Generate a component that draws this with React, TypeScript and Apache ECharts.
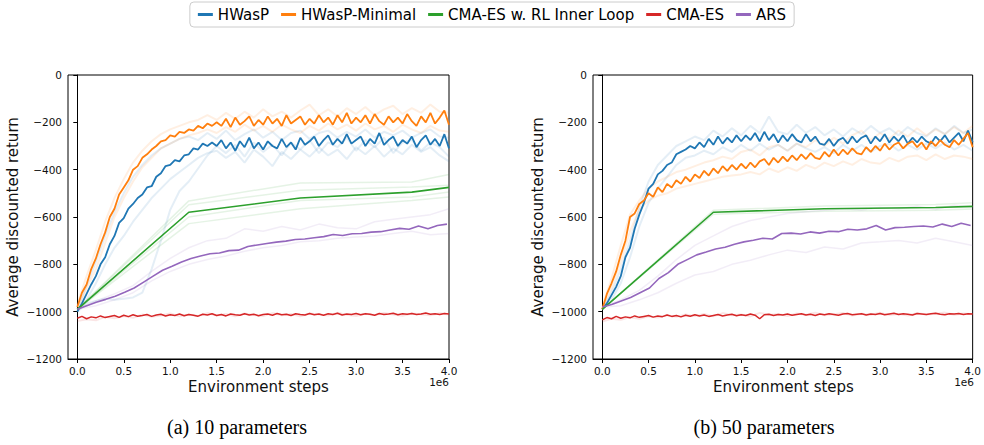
import React, { useEffect, useRef } from "react";
import * as echarts from "echarts";

// ---------- data ----------
const STEP = 0.05; // main noisy curves, x in units of 1e6 steps
const SEED_STEP = 0.1;
const ARS_STEP = 0.102;
const ARS_SEED_STEP = 0.2;
const CMA_X = [0, 1.2, 2.4, 3.6, 4.0];
const X_TICKS = [0, 0.5, 1, 1.5, 2, 2.5, 3, 3.5, 4];
const NAMES = ["HWasP", "HWasP-Minimal", "CMA-ES w. RL Inner Loop", "CMA-ES", "ARS"];
const COLORS = ["#1f77b4", "#ff7f0e", "#2ca02c", "#d62728", "#9467bd"];
const CAPTIONS = ["(a) 10 parameters", "(b) 50 parameters"];

// ---- panel (a): 10 parameters ----
const A_HWASP = [
  -1000, -965, -925, -885, -850, -800, -770, -715, -680, -625,
  -605, -565, -545, -520, -505, -475, -470, -430, -415, -385,
  -380, -360, -365, -340, -335, -310, -315, -290, -300, -285,
  -300, -275, -310, -285, -320, -280, -305, -265, -310, -285,
  -315, -280, -300, -310, -270, -305, -285, -315, -265, -295,
  -280, -260, -300, -275, -255, -295, -270, -290, -250, -290,
  -275, -260, -300, -270, -290, -245, -295, -275, -260, -300,
  -275, -290, -260, -305, -275, -255, -295, -270, -300, -250,
  -310,
];
const A_MIN = [
  -980, -920, -885, -820, -775, -715, -665, -600, -565, -505,
  -475, -445, -400, -385, -350, -335, -315, -300, -280, -275,
  -255, -260, -240, -245, -230, -235, -215, -225, -205, -215,
  -200, -215, -185, -220, -180, -210, -195, -175, -215, -190,
  -210, -175, -205, -185, -215, -170, -205, -190, -175, -210,
  -185, -205, -170, -200, -180, -210, -170, -200, -160, -205,
  -180, -200, -170, -205, -165, -195, -210, -175, -200, -180,
  -205, -165, -195, -215, -175, -200, -160, -205, -180, -150,
  -210,
];
const A_CMA_RL = [-990, -580, -520, -495, -475];
const A_CMA_RL_SEEDS = [
  [-990, -532, -456, -452, -420],
  [-990, -548, -487, -473, -466],
  [-990, -600, -530, -515, -494],
  [-990, -628, -565, -530, -515],
];
const A_CMA = [
  -1028, -1020, -1030, -1022, -1026, -1018, -1025, -1020, -1016, -1024,
  -1015, -1021, -1013, -1019, -1016, -1012, -1020, -1014, -1011, -1018,
  -1013, -1016, -1010, -1017, -1012, -1015, -1019, -1011, -1014, -1009,
  -1016, -1012, -1018, -1010, -1013, -1015, -1009, -1014, -1011, -1017,
  -1012, -1010, -1015, -1008, -1013, -1011, -1016, -1009, -1012, -1014,
  -1008, -1013, -1010, -1015, -1009, -1012, -1007, -1014, -1010, -1012,
  -1008, -1013, -1009, -1011, -1015, -1008, -1012, -1010, -1007, -1013,
  -1009, -1011, -1008, -1012, -1010, -1006, -1011, -1009, -1012, -1008,
  -1010,
];
const A_ARS = [
  -990, -975, -960, -948, -935, -918, -900, -875, -850, -825,
  -808, -790, -775, -765, -755, -752, -742, -740, -725, -718,
  -712, -706, -702, -695, -693, -688, -683, -674, -678, -671,
  -670, -664, -662, -655, -648, -652, -638, -650, -636, -630,
];
const A_HWASP_SEEDS = [
  [
    -1000, -965, -955, -945, -950, -945, -940, -920, -820, -700,
    -570, -490, -450, -395, -340, -300, -330, -295, -345, -285,
    -325, -295, -340, -285, -315, -275, -330, -285, -305, -265,
    -320, -275, -305, -265, -330, -285, -275, -320, -285, -305,
    -345,
  ],
  [
    -990, -890, -790, -680, -580, -500, -430, -380, -340, -310,
    -290, -270, -260, -275, -245, -270, -235, -275, -250, -230,
    -265, -240, -275, -245, -235, -270, -245, -235, -265, -240,
    -260, -230, -265, -240, -255, -235, -265, -245, -230, -260,
    -265,
  ],
  [
    -1000, -950, -880, -800, -730, -680, -620, -570, -520, -480,
    -440, -410, -380, -350, -330, -320, -350, -325, -370, -315,
    -345, -385, -325, -355, -315, -345, -305, -340, -315, -355,
    -305, -335, -300, -345, -310, -335, -295, -325, -305, -340,
    -365,
  ],
];
const A_MIN_SEEDS = [
  [
    -970, -850, -740, -620, -520, -440, -370, -320, -280, -250,
    -230, -215, -200, -190, -170, -190, -160, -185, -155, -180,
    -145, -175, -155, -180, -150, -125, -170, -145, -175, -140,
    -165, -135, -170, -145, -130, -165, -140, -160, -125, -155,
    -160,
  ],
  [
    -990, -900, -820, -710, -600, -520, -450, -390, -350, -310,
    -290, -270, -255, -245, -230, -245, -220, -240, -210, -235,
    -215, -240, -210, -230, -245, -215, -235, -205, -230, -210,
    -235, -205, -230, -215, -240, -210, -230, -245, -215, -235,
    -240,
  ],
];
const A_CMA_SEEDS = [
  [
    -1040, -1032, -1036, -1022, -1028, -1018, -1026, -1012, -1022, -1016,
    -1008, -1020, -1012, -1018, -1006, -1016, -1010, -1020, -1008, -1014,
    -1018, -1006, -1015, -1010, -1019, -1008, -1012, -1016, -1005, -1013,
    -1018, -1009, -1014, -1006, -1012, -1017, -1008, -1011, -1015, -1007,
    -1012,
  ],
];
const A_ARS_SEEDS = [
  [-990, -955, -925, -890, -830, -775, -730, -700, -690, -650, -660, -640, -655, -630, -645, -650, -620, -610, -600, -590, -565],
  [-990, -975, -950, -920, -870, -830, -800, -780, -765, -745, -730, -720, -705, -700, -690, -685, -680, -670, -660, -675, -670],
];

// ---- panel (b): 50 parameters ----
const B_HWASP = [
  -990, -965, -930, -895, -850, -770, -730, -650, -590, -540,
  -480, -460, -420, -405, -380, -370, -335, -325, -315, -300,
  -310, -285, -305, -270, -295, -260, -290, -265, -285, -255,
  -280, -255, -275, -245, -280, -240, -275, -250, -285, -255,
  -280, -250, -275, -285, -250, -280, -260, -290, -295, -270,
  -300, -275, -265, -290, -260, -285, -265, -255, -290, -260,
  -280, -250, -285, -260, -280, -255, -290, -265, -285, -260,
  -280, -290, -260, -280, -255, -285, -265, -245, -280, -235,
  -285,
];
const B_MIN = [
  -990, -925, -880, -830, -760, -700, -600, -585, -545, -530,
  -500, -515, -475, -495, -460, -475, -445, -460, -430, -450,
  -420, -435, -405, -425, -395, -415, -385, -405, -380, -400,
  -375, -395, -370, -390, -365, -355, -380, -350, -370, -345,
  -365, -340, -360, -335, -355, -330, -350, -355, -325, -345,
  -315, -340, -315, -335, -310, -330, -335, -305, -325, -300,
  -320, -290, -315, -295, -285, -310, -290, -280, -305, -285,
  -315, -280, -300, -275, -295, -305, -275, -295, -270, -245,
  -305,
];
const B_CMA_RL = [-990, -580, -565, -560, -555];
const B_CMA_RL_SEEDS = [
  [-990, -572, -553, -547, -540],
  [-990, -588, -576, -571, -566],
];
const B_CMA = [
  -1035, -1025, -1030, -1020, -1028, -1022, -1026, -1018, -1024, -1020,
  -1016, -1023, -1018, -1021, -1014, -1020, -1016, -1022, -1015, -1019,
  -1013, -1018, -1014, -1020, -1016, -1012, -1018, -1014, -1011, -1017,
  -1013, -1016, -1010, -1015, -1030, -1013, -1011, -1016, -1012, -1014,
  -1010, -1015, -1012, -1009, -1014, -1011, -1016, -1010, -1013, -1009,
  -1012, -1015, -1010, -1008, -1013, -1011, -1009, -1014, -1010, -1012,
  -1008, -1013, -1010, -1007, -1012, -1009, -1011, -1014, -1008, -1010,
  -1012, -1009, -1007, -1011, -1013, -1009, -1010, -1008, -1012, -1009,
  -1010,
];
const B_ARS = [
  -980, -970, -955, -940, -920, -900, -860, -835, -800, -780,
  -760, -748, -735, -728, -715, -705, -698, -690, -693, -670,
  -668, -672, -663, -668, -660, -662, -652, -655, -650, -636,
  -655, -645, -643, -640, -638, -642, -630, -640, -626, -636,
];
const B_HWASP_SEEDS = [
  [
    -990, -920, -820, -700, -560, -450, -380, -340, -300, -280,
    -260, -275, -235, -260, -225, -255, -215, -245, -175, -240,
    -250, -210, -245, -220, -255, -230, -260, -225, -250, -215,
    -245, -225, -255, -220, -245, -260, -225, -250, -215, -245,
    -230,
  ],
  [
    -990, -950, -880, -770, -640, -540, -480, -430, -380, -350,
    -340, -320, -335, -305, -325, -295, -320, -290, -315, -295,
    -320, -290, -310, -325, -305, -330, -295, -320, -295, -325,
    -300, -290, -320, -295, -315, -290, -310, -285, -315, -295,
    -320,
  ],
];
const B_MIN_SEEDS = [
  [
    -980, -860, -720, -590, -530, -480, -450, -430, -410, -400,
    -385, -370, -360, -345, -355, -325, -315, -340, -305, -295,
    -320, -290, -305, -275, -300, -265, -290, -255, -235, -275,
    -245, -270, -235, -260, -225, -255, -230, -250, -220, -245,
    -215,
  ],
  [
    -990, -900, -790, -660, -570, -530, -510, -500, -480, -470,
    -460, -450, -440, -430, -425, -420, -410, -420, -395, -410,
    -390, -405, -380, -395, -370, -385, -365, -380, -355, -370,
    -375, -350, -365, -345, -340, -360, -335, -355, -340, -345,
    -355,
  ],
];
const B_CMA_SEEDS = [
  [
    -1042, -1030, -1034, -1024, -1030, -1020, -1025, -1015, -1022, -1012,
    -1018, -1010, -1020, -1006, -1015, -1012, -1020, -1005, -1014, -1010,
    -1018, -1008, -1013, -1004, -1015, -1011, -1006, -1016, -1009, -1013,
    -1005, -1014, -1010, -1016, -1007, -1012, -1009, -1004, -1013, -1008,
    -1011,
  ],
];
const B_ARS_SEEDS = [
  [-980, -950, -910, -850, -780, -720, -680, -640, -615, -600, -585, -578, -572, -565, -570, -560, -565, -555, -568, -550, -558],
  [-980, -975, -950, -920, -880, -845, -830, -800, -783, -760, -740, -750, -727, -735, -710, -705, -699, -710, -690, -705, -720],
];

// ---------- helpers ----------
const pairs = (ys: number[], step: number) => ys.map((y, i) => [Math.round(i * step * 1000) / 1000, y]);
const cmaPairs = (ys: number[]) => ys.map((y, i) => [CMA_X[i], y]);

const FONT = "DejaVu Sans";
const MINUS = "\u2212";

function panelSeries(p: number, d: any) {
  const out: any[] = [];
  const line = (name: string, data: any[], color: string, width: number, opacity: number, z: number) => ({
    type: "line",
    name,
    data,
    xAxisIndex: p,
    yAxisIndex: p,
    showSymbol: false,
    symbol: "none",
    silent: true,
    z,
    lineStyle: { color, width, opacity },
    itemStyle: { color },
  });
  d.hwaspSeeds.forEach((s: number[]) => out.push(line("HWasP seed", pairs(s, SEED_STEP), COLORS[0], 2, 0.12, 1)));
  d.minSeeds.forEach((s: number[]) => out.push(line("HWasP-Minimal seed", pairs(s, SEED_STEP), COLORS[1], 2, 0.12, 1)));
  d.cmaRlSeeds.forEach((s: number[]) => out.push(line("CMA-ES w. RL seed", cmaPairs(s), COLORS[2], 1.5, 0.12, 1)));
  d.cmaSeeds.forEach((s: number[]) => out.push(line("CMA-ES seed", pairs(s, SEED_STEP), COLORS[3], 2, 0.12, 1)));
  d.arsSeeds.forEach((s: number[]) => out.push(line("ARS seed", pairs(s, ARS_SEED_STEP), COLORS[4], 1.5, 0.12, 1)));
  out.push(line(NAMES[0], pairs(d.hwasp, STEP), COLORS[0], 1.8, 1, 3));
  out.push(line(NAMES[1], pairs(d.min, STEP), COLORS[1], 1.8, 1, 4));
  out.push(line(NAMES[2], cmaPairs(d.cmaRl), COLORS[2], 1.6, 1, 5));
  out.push(line(NAMES[3], pairs(d.cma, STEP), COLORS[3], 1.5, 1, 6));
  out.push(line(NAMES[4], pairs(d.ars, ARS_STEP), COLORS[4], 1.6, 1, 7));
  return out;
}

const GRID_LEFTS = [68, 593];
const GRID_TOP = 75;
const GRID_W = 381;
const GRID_H = 284;

export default function App() {
  const ref = useRef<HTMLDivElement>(null);
  useEffect(() => {
    document.body.style.margin = "0";
    const chart = echarts.init(ref.current!, null, { renderer: "svg" });
    const panels = [
      { hwasp: A_HWASP, min: A_MIN, cmaRl: A_CMA_RL, cma: A_CMA, ars: A_ARS, hwaspSeeds: A_HWASP_SEEDS, minSeeds: A_MIN_SEEDS, cmaRlSeeds: A_CMA_RL_SEEDS, cmaSeeds: A_CMA_SEEDS, arsSeeds: A_ARS_SEEDS },
      { hwasp: B_HWASP, min: B_MIN, cmaRl: B_CMA_RL, cma: B_CMA, ars: B_ARS, hwaspSeeds: B_HWASP_SEEDS, minSeeds: B_MIN_SEEDS, cmaRlSeeds: B_CMA_RL_SEEDS, cmaSeeds: B_CMA_SEEDS, arsSeeds: B_ARS_SEEDS },
    ];
    const axisText = { fontFamily: FONT, fontSize: 10.5, color: "#111" };
    const xAxes = [0, 1].map((p) => ({
      type: "value",
      gridIndex: p,
      min: -0.1,
      max: 4.0,
      splitLine: { show: false },
      axisLine: { show: true, onZero: false, lineStyle: { color: "#000", width: 1 } },
      axisTick: { show: true, length: 4, customValues: X_TICKS, lineStyle: { color: "#000" } },
      axisLabel: { ...axisText, margin: 6, customValues: X_TICKS, formatter: (v: number) => v.toFixed(1) },
    }));
    const yAxes = [0, 1].map((p) => ({
      type: "value",
      gridIndex: p,
      min: -1200,
      max: 0,
      interval: 200,
      splitLine: { show: false },
      axisLine: { show: true, lineStyle: { color: "#000", width: 1 } },
      axisTick: { show: true, length: 4, lineStyle: { color: "#000" } },
      axisLabel: { ...axisText, margin: 6, formatter: (v: number) => (v < 0 ? MINUS + Math.abs(v) : String(v)) },
    }));
    const graphics: any[] = [];
    [0, 1].forEach((p) => {
      const left = GRID_LEFTS[p];
      const cx = left + GRID_W / 2;
      graphics.push({
        type: "text",
        x: p === 0 ? 13 : 538,
        y: GRID_TOP + GRID_H / 2,
        rotation: Math.PI / 2,
        style: { text: "Average discounted return", font: `15px "${FONT}"`, fill: "#111", align: "center", verticalAlign: "middle" },
      });
      graphics.push({
        type: "text",
        x: cx,
        y: 387,
        style: { text: "Environment steps", font: `15px "${FONT}"`, fill: "#111", align: "center", verticalAlign: "middle" },
      });
      graphics.push({
        type: "text",
        x: left + GRID_W,
        y: 382,
        style: { text: "1e6", font: `10.5px "${FONT}"`, fill: "#111", align: "right", verticalAlign: "middle" },
      });
      graphics.push({
        type: "text",
        x: p === 0 ? 237 : 764,
        y: 427,
        style: { text: CAPTIONS[p], font: `20px "Liberation Serif"`, fill: "#000", align: "center", verticalAlign: "middle" },
      });
    });
    chart.setOption({
      animation: false,
      backgroundColor: "#fff",
      legend: {
        data: NAMES,
        top: 2,
        left: "center",
        icon: "rect",
        itemWidth: 15,
        itemHeight: 3,
        itemGap: 12,
        padding: [5, 8],
        borderColor: "#cccccc",
        borderWidth: 1,
        borderRadius: 4,
        backgroundColor: "#fff",
        textStyle: { fontFamily: FONT, fontSize: 15, color: "#000" },
        selectedMode: false,
      },
      grid: GRID_LEFTS.map((l) => ({ left: l, top: GRID_TOP, width: GRID_W, height: GRID_H, show: true, borderColor: "#000", borderWidth: 1, backgroundColor: "transparent" })),
      xAxis: xAxes,
      yAxis: yAxes,
      series: [...panelSeries(0, panels[0]), ...panelSeries(1, panels[1])],
      graphic: graphics,
    });
    return () => chart.dispose();
  }, []);
  return <div ref={ref} style={{ width: 984, height: 445 }} />;
}
